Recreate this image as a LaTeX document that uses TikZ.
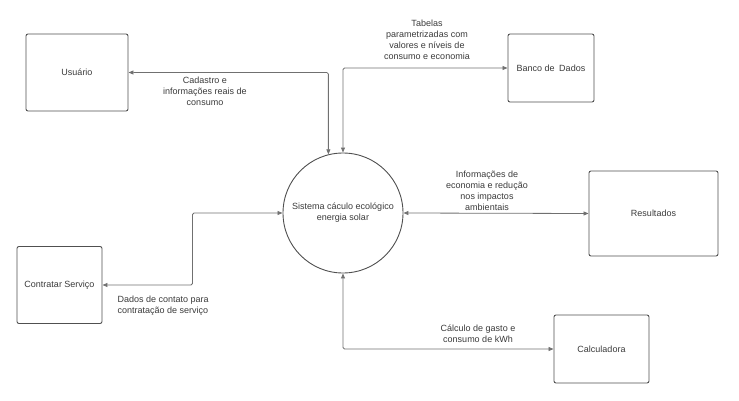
\documentclass[tikz,border=0pt]{standalone}
\usepackage{fontspec}
\setmainfont{Liberation Sans}
\usetikzlibrary{arrows.meta,positioning}
\definecolor{ink}{RGB}{58,58,58}
\definecolor{edgegray}{RGB}{112,112,112}
\definecolor{boxgray}{RGB}{80,80,80}

\begin{document}
\begin{tikzpicture}[
  x=1pt,y=-1pt,
  font=\fontsize{9}{11}\selectfont,
  entity/.style={draw=boxgray,line width=.9pt,rounded corners=2pt,
                 text=ink,inner sep=0pt},
  process/.style={circle,draw=boxgray,line width=.9pt,minimum size=120pt,
                  text=ink,align=center,inner sep=0pt},
  flow/.style={{Triangle[length=5pt,width=4pt]}-{Triangle[length=5pt,width=4pt]},
               draw=edgegray,line width=.8pt,rounded corners=1.5pt},
  note/.style={text=ink,align=center}
]
\useasboundingbox (0,0) rectangle (739,401);

% Central process.
\node[process] (sys) at (343,213) {Sistema cáculo ecológico\\energia solar};

% External entities.
\node[entity,minimum width=102pt,minimum height=77pt] (usuario) at (77,72.5) {Usuário};
\node[entity,minimum width=86pt,minimum height=68pt] (banco) at (551,68) {Banco de\enspace Dados};
\node[entity,minimum width=129pt,minimum height=85pt] (result) at (653.5,213.5) {Resultados};
\node[entity,minimum width=85pt,minimum height=77pt] (contratar) at (59.5,285) {Contratar Serviço};
\node[entity,minimum width=95pt,minimum height=68pt] (calc) at (601.5,349) {Calculadora};

% Data flows.
\draw[flow] (usuario.east) -| (sys.104.5);
\draw[flow] (sys.north) |- (banco.west);
\draw[flow] (sys.east) -- (result.west);
\draw[flow] (contratar.east) -- ++(90,0) |- (sys.west);
\draw[flow] (sys.south) |- (calc.west);

% Flow labels.
\node[note] (lblusuario) at (205,91) {Cadastro e\\informações reais de\\consumo};
\node[note] (lblbanco) at (427,40) {Tabelas\\parametrizadas com\\valores e níveis de\\consumo e economia};
\node[note] (lblresult) at (487,191) {Informações de\\economia e redução\\nos impactos\\ambientais};
\node[note,align=left,anchor=north west] (lblcontratar) at (114,292) {Dados de contato para\\contratação de serviço};
\node[note] (lblcalc) at (478,333.5) {Cálculo de gasto e\\consumo de kWh};

\end{tikzpicture}
\end{document}
